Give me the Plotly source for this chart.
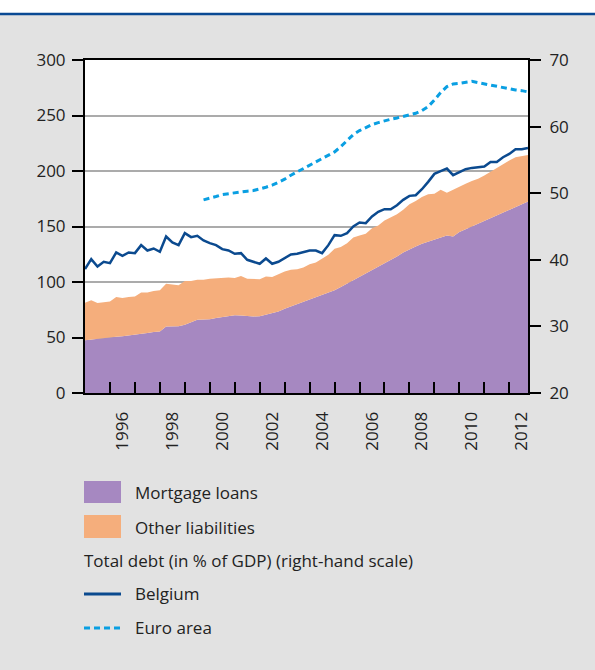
import plotly.graph_objects as go

# quarterly observations, 1995 Q1 - 2012 Q4 (decimal years)
quarters = [1995 + q / 4 for q in range(72)]
euro_quarters = quarters[19:]  # euro area series starts 1999 Q4

mortgage_loans = [
    47.5, 48.0, 48.5, 49.2, 50.0, 50.6, 51.2, 51.8, 52.5, 53.3, 54.0, 55.0,
    55.5, 60.0, 60.0, 60.2, 61.5, 63.5, 66.0, 66.2, 66.5, 67.5, 68.5, 69.5,
    70.0, 69.8, 69.2, 69.0, 69.2, 70.5, 72.0, 73.5, 76.0, 78.0, 80.0, 82.0,
    84.0, 86.0, 88.0, 90.0, 92.5, 95.5, 98.5, 101.5, 105.0, 108.0, 111.0, 114.0,
    117.0, 120.0, 123.0, 126.5, 129.5, 132.0, 134.5, 136.5, 138.0, 140.5, 142.0, 141.0,
    145.0, 147.5, 150.0, 152.5, 155.5, 158.0, 160.5, 163.0, 165.5, 168.0, 170.5, 172.5,
]
other_liabilities = [
    33.8, 35.5, 32.5, 32.8, 32.5, 35.9, 34.3, 34.7, 34.5, 37.2, 36.5, 37.0,
    37.0, 38.5, 37.5, 36.8, 39.5, 37.5, 36.0, 35.8, 36.5, 36.0, 35.0, 34.5,
    33.5, 35.7, 33.8, 33.5, 33.3, 34.5, 32.5, 33.5, 33.5, 33.0, 31.5, 31.0,
    32.0, 31.5, 33.0, 34.5, 37.5, 36.0, 36.5, 38.5, 37.0, 35.5, 37.5, 37.0,
    38.5, 38.0, 38.0, 38.5, 40.5, 41.0, 42.0, 42.5, 41.5, 42.5, 38.5, 42.0,
    41.0, 41.0, 41.0, 40.5, 40.5, 41.5, 42.5, 43.0, 44.0, 44.5, 43.0, 42.0,
]
belgium = [
    38.6, 40.1, 39.0, 39.7, 39.5, 41.1, 40.6, 41.1, 41.0, 42.2, 41.4, 41.7,
    41.2, 43.5, 42.6, 42.2, 44.0, 43.4, 43.6, 42.9, 42.5, 42.2, 41.6, 41.4,
    40.9, 41.0, 40.0, 39.7, 39.4, 40.2, 39.4, 39.7, 40.2, 40.8, 40.9, 41.1,
    41.4, 41.4, 41.0, 42.2, 43.7, 43.6, 44.0, 45.0, 45.6, 45.5, 46.5, 47.2,
    47.6, 47.6, 48.2, 49.0, 49.6, 49.7, 50.6, 51.7, 52.9, 53.3, 53.7, 52.7,
    53.2, 53.6, 53.8, 53.9, 54.0, 54.7, 54.7, 55.4, 55.9, 56.6, 56.6, 56.8,
]
euro_area = [
    49.0, 49.2, 49.5, 49.8, 49.95, 50.1, 50.2, 50.3, 50.4, 50.6, 50.9, 51.2, 51.6,
    52.1, 52.7, 53.2, 53.6, 54.2, 54.7, 55.2, 55.7, 56.2, 57.0, 57.9, 58.8,
    59.4, 59.9, 60.3, 60.6, 60.9, 61.1, 61.3, 61.5, 61.7, 62.0, 62.4, 63.0,
    64.0, 65.1, 66.0, 66.4, 66.5, 66.7, 66.8, 66.6, 66.4, 66.3, 66.1, 65.9,
    65.7, 65.5, 65.4, 65.2,
]

year_ticks = list(range(1996, 2013))
label_years = [1996, 1998, 2000, 2002, 2004, 2006, 2008, 2010, 2012]

PURPLE = '#a688c1'
ORANGE = '#f5ae7c'
DARK_BLUE = '#0b4a8f'
LIGHT_BLUE = '#0a9fe2'
TEXT = '#222222'
FONT_SIZE = 17

# plot area in pixels (used for the hand-made legend and the header strip)
L, R, T, B = 85, 528, 60, 393


def px_x(x):
    return (x - L) / (R - L)


def px_y(y):
    return (B - y) / (B - T)


fig = go.Figure()
fig.add_trace(go.Scatter(x=quarters, y=mortgage_loans, name='Mortgage loans',
                         stackgroup='debt', mode='lines', line=dict(width=0),
                         fillcolor=PURPLE))
fig.add_trace(go.Scatter(x=quarters, y=other_liabilities, name='Other liabilities',
                         stackgroup='debt', mode='lines', line=dict(width=0),
                         fillcolor=ORANGE))
fig.add_trace(go.Scatter(x=quarters, y=belgium, name='Belgium', yaxis='y2',
                         mode='lines', line=dict(color=DARK_BLUE, width=2.5)))
fig.add_trace(go.Scatter(x=euro_quarters, y=euro_area, name='Euro area', yaxis='y2',
                         mode='lines', line=dict(color=LIGHT_BLUE, width=3, dash='6px,4px')))

fig.update_layout(
    width=595, height=670,
    margin=dict(l=L, r=595 - R, t=T, b=670 - B),
    paper_bgcolor='#e2e2e2', plot_bgcolor='white',
    showlegend=False,
    font=dict(family='Open Sans', size=FONT_SIZE, color=TEXT),
    xaxis=dict(range=[1995, 2012.75], tickmode='array',
               tickvals=[y + 0.5 for y in label_years],
               ticktext=[str(y) for y in label_years],
               tickangle=-90, ticks='', ticklabelstandoff=10,
               showline=True, linecolor='black', linewidth=2, mirror=True,
               showgrid=False, zeroline=False,
               minor=dict(tickmode='array', tickvals=year_ticks, ticks='inside',
                          ticklen=11, tickwidth=2, tickcolor='black', showgrid=False)),
    yaxis=dict(range=[0, 300], tick0=0, dtick=50, ticks='outside', ticklen=11,
               tickwidth=2, tickcolor='black', showline=True, linecolor='black',
               linewidth=2, showgrid=True, gridcolor='#ababab', gridwidth=1.5,
               zeroline=False, ticklabelstandoff=3),
    yaxis2=dict(range=[20, 70], tick0=20, dtick=10, overlaying='y', side='right',
                ticks='outside', ticklen=11, tickwidth=2, tickcolor='black',
                showline=True, linecolor='black', linewidth=2, showgrid=False,
                zeroline=False, ticklabelstandoff=5),
)

# white header strip with the blue rule
fig.add_shape(type='rect', xref='paper', yref='paper', layer='below',
              x0=px_x(0), x1=px_x(595), y0=px_y(14), y1=px_y(0),
              fillcolor='white', line=dict(width=0))
fig.add_shape(type='line', xref='paper', yref='paper',
              x0=px_x(0), x1=px_x(595), y0=px_y(14), y1=px_y(14),
              line=dict(color='#0a4a94', width=2.5))

# legend below the chart
fig.add_shape(type='rect', xref='paper', yref='paper',
              x0=px_x(84), x1=px_x(121), y0=px_y(503), y1=px_y(481),
              fillcolor=PURPLE, line=dict(width=0))
fig.add_shape(type='rect', xref='paper', yref='paper',
              x0=px_x(84), x1=px_x(121), y0=px_y(538), y1=px_y(515),
              fillcolor=ORANGE, line=dict(width=0))
fig.add_shape(type='line', xref='paper', yref='paper',
              x0=px_x(84), x1=px_x(121), y0=px_y(594), y1=px_y(594),
              line=dict(color=DARK_BLUE, width=3))
fig.add_shape(type='line', xref='paper', yref='paper',
              x0=px_x(84), x1=px_x(121), y0=px_y(628), y1=px_y(628),
              line=dict(color=LIGHT_BLUE, width=3, dash='6px,4px'))

legend_rows = [
    (133, 492, 'Mortgage loans'),
    (133, 527, 'Other liabilities'),
    (82, 560, 'Total debt (in % of GDP) (right-hand scale)'),
    (133, 593, 'Belgium'),
    (133, 627, 'Euro area'),
]
for x, y, label in legend_rows:
    fig.add_annotation(xref='paper', yref='paper', x=px_x(x), y=px_y(y),
                       text=label, showarrow=False, xanchor='left', yanchor='middle',
                       font=dict(size=FONT_SIZE, color=TEXT))

# drop the browser's default body margin so the figure sits at the page origin
fig.write_html("out.html", config={'displayModeBar': False},
               post_script="document.body.style.margin = '0';")
